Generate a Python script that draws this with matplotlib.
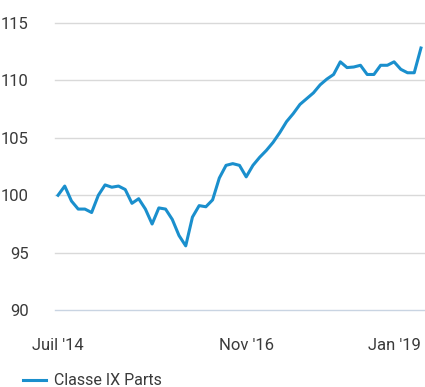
import matplotlib
matplotlib.use('Agg')
import matplotlib.pyplot as plt
import numpy as np

# Monthly index, Juil '14 .. Jan '19 (base 100)
values = [
    100.0, 100.8, 99.5, 98.8, 98.8, 98.5, 100.0, 100.9, 100.7, 100.8,
    100.5, 99.3, 99.7, 98.8, 97.5, 98.9, 98.8, 97.9, 96.5, 95.6,
    98.1, 99.1, 99.0, 99.6, 101.5, 102.6, 102.75, 102.6, 101.6, 102.6,
    103.3, 103.9, 104.6, 105.45, 106.4, 107.1, 107.9, 108.4, 108.9, 109.6,
    110.1, 110.5, 111.6, 111.1, 111.15, 111.3, 110.5, 110.5, 111.3, 111.3,
    111.6, 110.95, 110.65, 110.65, 112.8,
]
series_name = 'Classe IX Parts'
xtick_pos = [0, 28, 54]
xtick_labels = ["Juil '14", "Nov '16", "Jan '19"]
yticks = [90, 95, 100, 105, 110, 115]

font = ['Roboto', 'DejaVu Sans']
text_color = '#3a3a3a'
line_color = '#1a8fcd'

fig = plt.figure(figsize=(4.25, 3.87), dpi=100)
ax = fig.add_axes([0.1294, 0.1982, 0.8682, 0.7431])

x = np.arange(len(values))
line, = ax.plot(x, values, color=line_color, linewidth=2.2, solid_joinstyle='round',
                label=series_name, zorder=3)

ax.set_xlim(-0.45, 54.45)
ax.set_ylim(90, 115)

# horizontal gridlines, bottom one slightly bluish
for yv in yticks:
    c = '#c9d4e2' if yv == 90 else '#d9d9d9'
    ax.axhline(yv, color=c, linewidth=1.0, zorder=1, clip_on=False)

ax.set_yticks(yticks)
ax.set_yticklabels([str(v) for v in yticks], fontsize=12, color=text_color,
                   family=font)
ax.tick_params(axis='y', length=0, pad=19)
for t in ax.get_yticklabels():
    t.set_verticalalignment('center_baseline')

ax.set_xticks(xtick_pos)
ax.set_xticklabels(xtick_labels, fontsize=12, color=text_color, family=font)
ax.tick_params(axis='x', length=0, pad=20)
ax.get_xticklabels()[-1].set_horizontalalignment('right')
ax.get_xticklabels()[-1].set_x(54.2)

for s in ax.spines.values():
    s.set_visible(False)

# legend below the axes
fig.legend(handles=[line], labels=[series_name], loc='lower left',
           bbox_to_anchor=(0.02, -0.04), frameon=False, handlelength=1.45,
           handletextpad=0.5, prop={'family': font, 'size': 11.5},
           labelcolor=text_color)

fig.savefig('out.png', dpi=100, facecolor='white')
